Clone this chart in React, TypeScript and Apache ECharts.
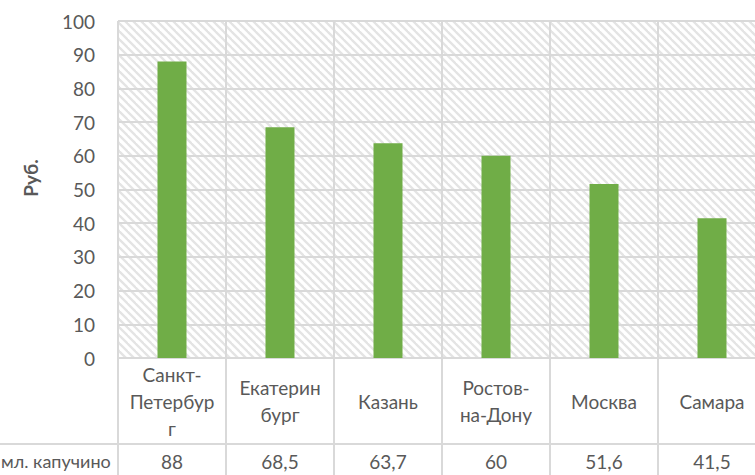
import React, { useEffect, useRef } from "react";
import * as echarts from "echarts";

const categories = ["Санкт-\nПетербур\nг", "Екатерин\nбург", "Казань", "Ростов-\nна-Дону", "Москва", "Самара"];
const prices = [88, 68.5, 63.7, 60, 51.6, 41.5];
const rowLabel = "мл. капучино";
const yAxisTitle = "Руб.";

const FONT = "Lato";
const TEXT = "#595959";
const LINE = "#d9d9d9";

function makeHatch(): string {
  const c = document.createElement("canvas");
  c.width = 8;
  c.height = 8;
  const ctx = c.getContext("2d")!;
  ctx.fillStyle = "#ffffff";
  ctx.fillRect(0, 0, 8, 8);
  ctx.strokeStyle = "#e4e4e4";
  ctx.lineWidth = 2.3;
  for (const k of [-8, 0, 8]) {
    ctx.beginPath();
    ctx.moveTo(k - 2, -2);
    ctx.lineTo(k + 10, 10);
    ctx.stroke();
  }
  return c.toDataURL();
}

export default function App() {
  const ref = useRef<HTMLDivElement>(null);
  useEffect(() => {
    if (!ref.current) return;
    const chart = echarts.init(ref.current, undefined, { renderer: "svg" });
    const lineStyle = { color: LINE, width: 2 };
    chart.setOption({
      animation: false,
      grid: {
        left: 118,
        top: 21,
        width: 648,
        height: 337,
        show: true,
        borderWidth: 0,
        backgroundColor: { image: makeHatch(), repeat: "repeat" },
      },
      xAxis: [
        {
          type: "category",
          data: categories,
          position: "bottom",
          axisLine: { show: true, lineStyle },
          axisTick: { show: true, length: 120, lineStyle },
          splitLine: { show: true, interval: 0, lineStyle },
          axisLabel: {
            interval: 0,
            margin: 43,
            verticalAlign: "middle",
            lineHeight: 27,
            fontSize: 19,
            color: TEXT,
            fontFamily: FONT,
          },
        },
        {
          type: "category",
          data: prices.map((v) => String(v).replace(".", ",")),
          position: "bottom",
          offset: 86,
          axisLine: { show: false },
          axisTick: { show: false },
          splitLine: { show: false },
          axisLabel: {
            interval: 0,
            margin: 17,
            verticalAlign: "middle",
            fontSize: 19,
            color: TEXT,
            fontFamily: FONT,
          },
        },
      ],
      yAxis: {
        type: "value",
        min: 0,
        max: 100,
        interval: 10,
        axisLine: { show: false },
        axisTick: { show: false },
        splitLine: { show: true, lineStyle },
        axisLabel: { margin: 23, fontSize: 19, color: TEXT, fontFamily: FONT },
      },
      series: [
        {
          type: "bar",
          xAxisIndex: 0,
          data: prices,
          barWidth: 29,
          itemStyle: { color: "#70ad47" },
        },
      ],
      graphic: [
        {
          type: "line",
          shape: { x1: 0, y1: 444, x2: 800, y2: 444 },
          style: { stroke: LINE, lineWidth: 2 },
          silent: true,
        },
        {
          type: "text",
          x: 1,
          y: 461,
          style: {
            text: rowLabel,
            align: "left",
            verticalAlign: "middle",
            fontSize: 18,
            fontFamily: FONT,
            fill: TEXT,
          },
        },
        {
          type: "text",
          x: 30,
          y: 178,
          rotation: Math.PI / 2,
          style: {
            text: yAxisTitle,
            align: "center",
            verticalAlign: "middle",
            fontSize: 19,
            fontWeight: "bold",
            fontFamily: FONT,
            fill: TEXT,
          },
        },
      ],
    });
    return () => chart.dispose();
  }, []);
  return (
    <div style={{ position: "fixed", left: 0, top: 0, width: 755, height: 475, overflow: "hidden", background: "#fff" }}>
      <div ref={ref} style={{ width: 800, height: 475 }} />
    </div>
  );
}
